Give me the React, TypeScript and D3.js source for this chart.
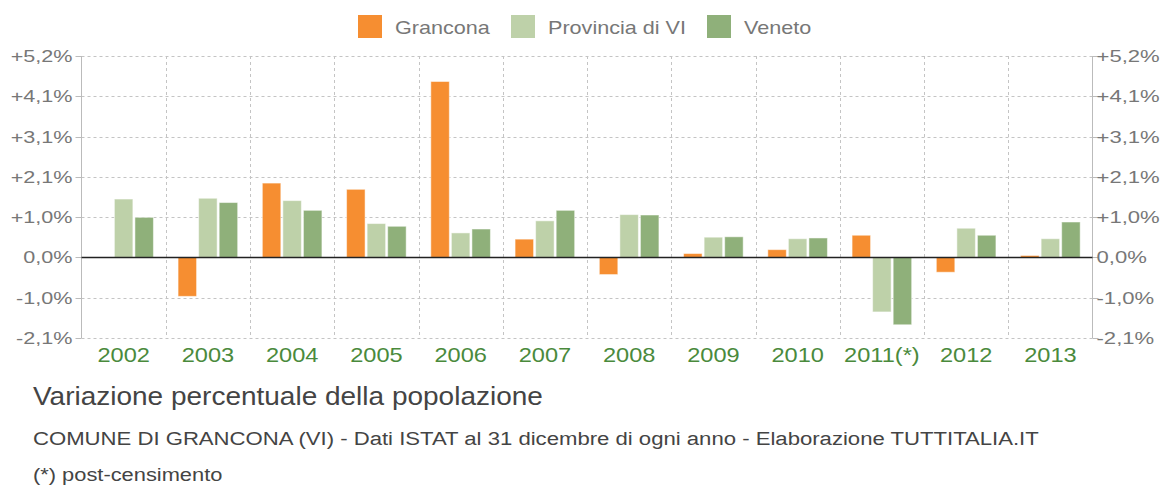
import React from "react";
import * as d3 from "d3";

const categories = ["2002","2003","2004","2005","2006","2007","2008","2009","2010","2011(*)","2012","2013"];
const grancona = [0, -1.0, 1.91, 1.75, 4.52, 0.47, -0.44, 0.1, 0.2, 0.57, -0.38, 0.05];
const provincia = [1.5, 1.52, 1.46, 0.87, 0.63, 0.94, 1.1, 0.52, 0.48, -1.4, 0.75, 0.48];
const veneto = [1.03, 1.41, 1.21, 0.8, 0.73, 1.21, 1.09, 0.53, 0.5, -1.73, 0.57, 0.91];
const seriesNames = ["Grancona", "Provincia di VI", "Veneto"];
const colors = ["#f68e31", "#bed1a9", "#8fb07a"];
const tickStep = 1.035;
const tickIdx = [-2, -1, 0, 1, 2, 3, 4, 5];

const W = 1165, H = 486;
const left = 81.5, right = 1092.5, top = 56, bottom = 338;

function fmt(v: number) {
  const r = Math.round(v * 10) / 10;
  const s = Math.abs(r).toFixed(1).replace(".", ",");
  if (r > 0) return "+" + s + "%";
  if (r < 0) return "-" + s + "%";
  return s + "%";
}

function SText(props: { x: number; y: number; sx: number; size: number; fill: string; anchor?: string; children: React.ReactNode }) {
  return (
    <text transform={`translate(${props.x},${props.y}) scale(${props.sx},1)`} x={0} y={0}
      fontSize={props.size} fill={props.fill} textAnchor={props.anchor || "start"}>
      {props.children}
    </text>
  );
}

export default function App() {
  const y = d3.scaleLinear().domain([-2 * tickStep, 5 * tickStep]).range([bottom, top]);
  const x = d3.scaleBand().domain(categories).range([left, right]).paddingInner(0).paddingOuter(0);
  const inner = d3.scaleBand().domain(seriesNames).range([0, x.bandwidth()]).paddingInner(0.1).paddingOuter(0.6);
  const series = [grancona, provincia, veneto];
  const ticks = tickIdx.map((i) => i * tickStep);
  const font = "'Liberation Sans', Arial, sans-serif";
  const legendX = [358, 511, 707];
  return (
    <svg width={W} height={H} style={{ display: "block", position: "absolute", left: 0, top: 0 }} fontFamily={font}>
      <rect x={0} y={0} width={W} height={H} fill="#ffffff" />
      {/* legend */}
      {seriesNames.map((n, i) => (
        <g key={n}>
          <rect x={legendX[i]} y={15} width={24} height={23} fill={colors[i]} />
          <SText x={legendX[i] + 37} y={34} sx={1.2} size={18} fill="#777">{n}</SText>
        </g>
      ))}
      {/* grid */}
      {ticks.map((t, i) => (
        <line key={"h" + i} x1={left} x2={right} y1={Math.round(y(t)) + 0.5} y2={Math.round(y(t)) + 0.5} stroke="#c4c4c4" strokeDasharray="3,3" />
      ))}
      {categories.map((c, i) => i > 0 && (
        <line key={"v" + i} x1={Math.round(x(c)!) + 0.5} x2={Math.round(x(c)!) + 0.5} y1={top} y2={bottom} stroke="#c4c4c4" strokeDasharray="3,3" />
      ))}
      {/* axes */}
      <line x1={left} x2={left} y1={top} y2={bottom} stroke="#bbb" />
      <line x1={right} x2={right} y1={top} y2={bottom} stroke="#bbb" />
      {ticks.map((t, i) => (
        <g key={"t" + i}>
          <line x1={left - 6} x2={left} y1={Math.round(y(t)) + 0.5} y2={Math.round(y(t)) + 0.5} stroke="#bbb" />
          <line x1={right} x2={right + 6} y1={Math.round(y(t)) + 0.5} y2={Math.round(y(t)) + 0.5} stroke="#bbb" />
          <SText x={left - 9} y={y(t) + 6} sx={1.27} size={17} fill="#777" anchor="end">{fmt(t)}</SText>
          <SText x={right + 4} y={y(t) + 6} sx={1.3} size={17} fill="#777">{fmt(t)}</SText>
        </g>
      ))}
      {/* bars */}
      {categories.map((c, ci) => (
        <g key={c}>
          {series.map((s, si) => {
            const v = s[ci];
            if (v === 0) return null;
            const bx = x(c)! + inner(seriesNames[si])!;
            const y0 = y(0), y1 = y(v);
            return (
              <rect key={si} x={bx} y={Math.min(y0, y1)} width={inner.bandwidth()} height={Math.abs(y1 - y0)}
                fill={colors[si]} stroke="#ffffff" strokeOpacity={0.5} strokeWidth={1} />
            );
          })}
          <SText x={x(c)! + x.bandwidth() / 2} y={362} sx={1.18} size={20} fill="#4a8a3c" anchor="middle">{c}</SText>
        </g>
      ))}
      <line x1={left} x2={right} y1={y(0)} y2={y(0)} stroke="#222" strokeWidth={1.5} />
      {/* titles */}
      <SText x={33} y={405} sx={1.12} size={25} fill="#444">Variazione percentuale della popolazione</SText>
      <SText x={33} y={445} sx={1.165} size={19} fill="#444">COMUNE DI GRANCONA (VI) - Dati ISTAT al 31 dicembre di ogni anno - Elaborazione TUTTITALIA.IT</SText>
      <SText x={33} y={481} sx={1.15} size={19} fill="#444">(*) post-censimento</SText>
    </svg>
  );
}
